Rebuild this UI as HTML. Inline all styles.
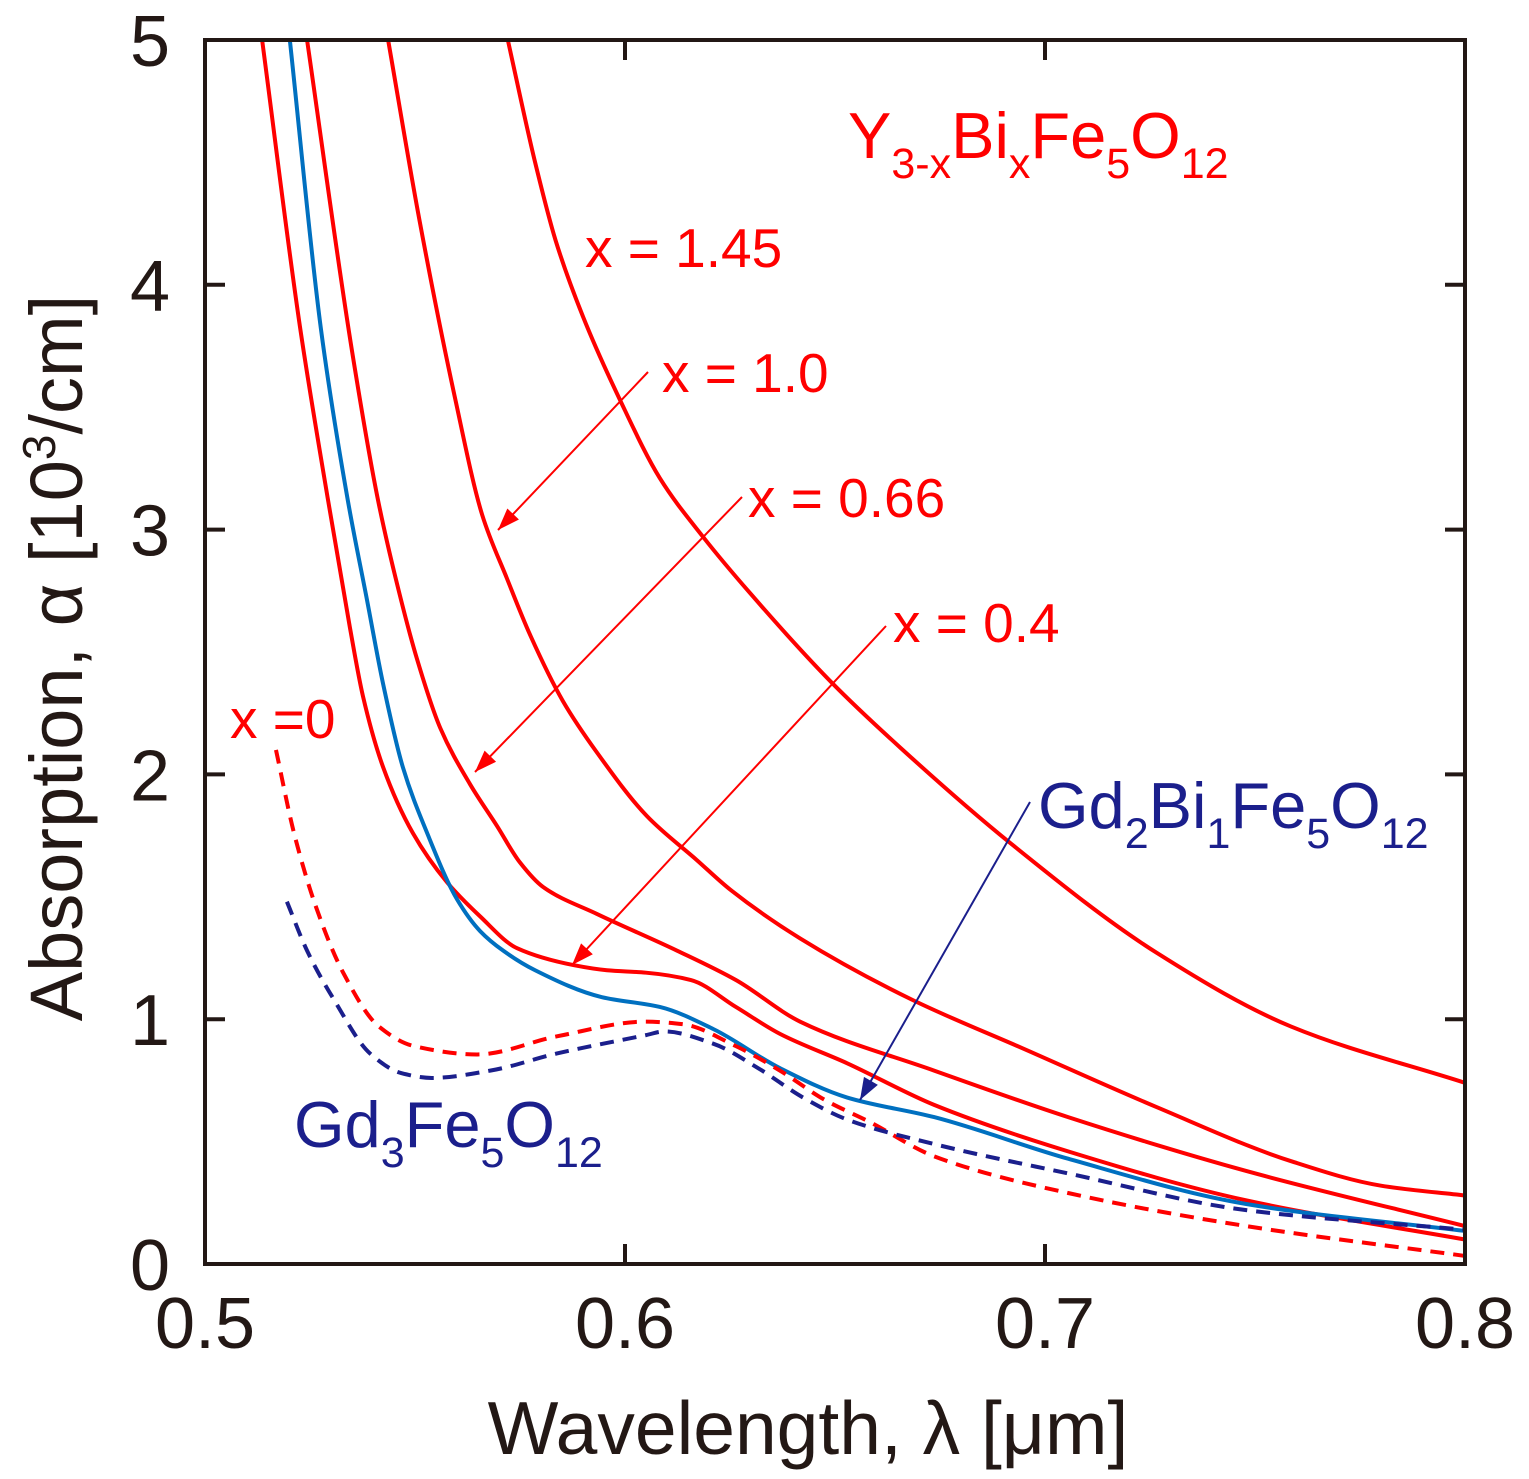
<!DOCTYPE html>
<html><head><meta charset="utf-8"><style>
html,body{margin:0;padding:0;background:#fff}
svg{display:block}
text{font-family:"Liberation Sans",sans-serif}
</style></head><body>
<svg id="chart" width="1529" height="1479" viewBox="0 0 1529 1479" xmlns="http://www.w3.org/2000/svg">
<g id="marks"></g>
<rect x="205" y="40" width="1260" height="1224" fill="none" stroke="#231815" stroke-width="4"/>
<g id="ticks"></g>
<g id="labels" fill="#231815"></g>
<text transform="translate(82,658) rotate(-90)" text-anchor="middle" font-size="74" fill="#231815">Absorption, α [10<tspan font-size="46" dy="-27">3</tspan><tspan dy="27">/cm]</tspan></text>
<text x="808" y="1454" text-anchor="middle" font-size="75" fill="#231815">Wavelength, λ [μm]</text>
<g fill="#ff0000">
<text x="848" y="158" font-size="65">Y<tspan font-size="43" dy="20">3-x</tspan><tspan dy="-20">Bi</tspan><tspan font-size="43" dy="20">x</tspan><tspan dy="-20">Fe</tspan><tspan font-size="43" dy="20">5</tspan><tspan dy="-20">O</tspan><tspan font-size="43" dy="20">12</tspan></text>
<text x="585" y="267" font-size="55">x = 1.45</text>
<text x="662" y="392" font-size="55">x = 1.0</text>
<text x="748" y="517" font-size="55">x = 0.66</text>
<text x="893" y="642" font-size="55">x = 0.4</text>
<text x="230" y="738" font-size="55">x =0</text>
</g>
<g fill="#1b1f8c">
<text x="1038" y="828" font-size="65">Gd<tspan font-size="43" dy="20">2</tspan><tspan dy="-20">Bi</tspan><tspan font-size="43" dy="20">1</tspan><tspan dy="-20">Fe</tspan><tspan font-size="43" dy="20">5</tspan><tspan dy="-20">O</tspan><tspan font-size="43" dy="20">12</tspan></text>
<text x="294" y="1147" font-size="65">Gd<tspan font-size="43" dy="20">3</tspan><tspan dy="-20">Fe</tspan><tspan font-size="43" dy="20">5</tspan><tspan dy="-20">O</tspan><tspan font-size="43" dy="20">12</tspan></text>
</g>
<g id="arrows"></g>
</svg>
<script>
const xTicks=[0.5,0.6,0.7,0.8];
const xTickLabels=["0.5","0.6","0.7","0.8"];
const yTicks=[0,1,2,3,4,5];
const yTickLabels=["0","1","2","3","4","5"];
const s145x=[0.5721,0.5786,0.5835,0.59,0.5988,0.6083,0.6186,0.6298,0.6495,0.6655,0.6917,0.7267,0.7586,0.8];
const s145y=[5,4.50,4.18,3.87,3.53,3.21,2.97,2.74,2.37,2.11,1.72,1.27,0.97,0.74];
const s10x=[0.5436,0.551,0.5595,0.566,0.5719,0.5774,0.5852,0.5933,0.6052,0.6171,0.625,0.6417,0.6683,0.6948,0.7267,0.7586,0.78,0.8];
const s10y=[5,4.27,3.54,3.06,2.80,2.57,2.30,2.09,1.83,1.65,1.53,1.33,1.08,0.88,0.64,0.42,0.32,0.28];
const s066x=[0.5243,0.535,0.5412,0.5457,0.5505,0.556,0.5631,0.5695,0.575,0.5805,0.5933,0.6124,0.6264,0.6417,0.6736,0.7055,0.7479,0.8];
const s066y=[5,3.73,3.12,2.78,2.47,2.19,1.96,1.79,1.64,1.54,1.43,1.28,1.16,0.99,0.79,0.60,0.38,0.155];
const s04x=[0.5136,0.5226,0.5293,0.5345,0.5376,0.5424,0.5495,0.5576,0.5655,0.5743,0.588,0.5957,0.605,0.6157,0.6264,0.6369,0.6529,0.6736,0.7055,0.7479,0.8];
const s04y=[5,3.83,3.12,2.60,2.32,2.03,1.76,1.56,1.42,1.29,1.22,1.20,1.19,1.16,1.05,0.94,0.82,0.65,0.46,0.26,0.10];
const gdbix=[0.5202,0.5276,0.534,0.5386,0.5424,0.5471,0.5529,0.56,0.5655,0.571,0.5786,0.5945,0.6083,0.621,0.6369,0.6529,0.6736,0.7055,0.7479,0.8];
const gdbiy=[5,3.82,3.12,2.71,2.37,2.03,1.76,1.49,1.36,1.28,1.20,1.09,1.05,0.96,0.80,0.68,0.60,0.43,0.245,0.135];
const s0x=[0.5169,0.5212,0.5264,0.5329,0.5414,0.5498,0.5648,0.5838,0.605,0.6136,0.6264,0.6369,0.6476,0.6583,0.6736,0.7055,0.7479,0.8];
const s0y=[2.10,1.76,1.46,1.19,0.97,0.89,0.856,0.93,0.99,0.98,0.89,0.79,0.67,0.58,0.44,0.29,0.155,0.033];
const gd3x=[0.5195,0.5243,0.5307,0.5393,0.5467,0.554,0.5679,0.5838,0.605,0.6093,0.621,0.6317,0.6424,0.6529,0.6736,0.7055,0.7479,0.8];
const gd3y=[1.48,1.28,1.08,0.86,0.78,0.76,0.79,0.86,0.935,0.95,0.90,0.80,0.68,0.59,0.49,0.37,0.22,0.14];

const NS="http://www.w3.org/2000/svg";
const X=v=>205+(v-0.5)/0.3*1260;
const Y=v=>1264-v/5*1224;
function pathD(xs,ys){
  const px=xs.map(X),py=ys.map(Y),n=px.length;
  const d=[],m=new Array(n);
  for(let i=0;i<n-1;i++)d.push((py[i+1]-py[i])/(px[i+1]-px[i]));
  m[0]=d[0];m[n-1]=d[n-2];
  for(let i=1;i<n-1;i++){
    if(d[i-1]*d[i]<=0)m[i]=0;
    else{const h0=px[i]-px[i-1],h1=px[i+1]-px[i];const w1=2*h1+h0,w2=h1+2*h0;m[i]=(w1+w2)/(w1/d[i-1]+w2/d[i]);}
  }
  let s="M"+px[0]+","+py[0];
  for(let i=0;i<n-1;i++){
    const h=(px[i+1]-px[i])/3;
    s+=" C"+(px[i]+h)+","+(py[i]+m[i]*h)+" "+(px[i+1]-h)+","+(py[i+1]-m[i+1]*h)+" "+px[i+1]+","+py[i+1];
  }
  return s;
}
const marks=document.getElementById("marks");
function addLine(xs,ys,color,dash,name){
  const el=document.createElementNS(NS,"path");
  el.setAttribute("d",pathD(xs,ys));
  el.setAttribute("fill","none");
  el.setAttribute("stroke",color);
  el.setAttribute("stroke-width","4");
  if(dash)el.setAttribute("stroke-dasharray","14 9");
  
  
  marks.appendChild(el);
}
addLine(s145x,s145y,"#ff0000",false,"line-x-1-45");
addLine(s10x,s10y,"#ff0000",false,"line-x-1-0");
addLine(s066x,s066y,"#ff0000",false,"line-x-0-66");
addLine(s04x,s04y,"#ff0000",false,"line-x-0-4");
addLine(gdbix,gdbiy,"#0070c0",false,"line-gd2bi1");
addLine(s0x,s0y,"#ff0000",true,"line-x-0");
addLine(gd3x,gd3y,"#1b1f8c",true,"line-gd3");

const ticks=document.getElementById("ticks"),labels=document.getElementById("labels");
function ln(x1,y1,x2,y2,name){
  const l=document.createElementNS(NS,"line");
  l.setAttribute("x1",x1);l.setAttribute("y1",y1);l.setAttribute("x2",x2);l.setAttribute("y2",y2);
  l.setAttribute("stroke","#231815");l.setAttribute("stroke-width","4");
  
  
  ticks.appendChild(l);
}
xTicks.forEach((v,i)=>{
  ln(X(v),1264,X(v),1244,"x-tick");
  ln(X(v),40,X(v),60,"x-tick-top");
  const t=document.createElementNS(NS,"text");
  t.setAttribute("x",X(v));t.setAttribute("y",1348);t.setAttribute("text-anchor","middle");
  t.setAttribute("font-size","72");
  t.textContent=xTickLabels[i];
  
  
  labels.appendChild(t);
});
yTicks.forEach((v,i)=>{
  ln(205,Y(v),225,Y(v),"y-tick");
  ln(1465,Y(v),1445,Y(v),"y-tick-right");
  const t=document.createElementNS(NS,"text");
  t.setAttribute("x",170);t.setAttribute("y",Y(v)+26);t.setAttribute("text-anchor","end");
  t.setAttribute("font-size","72");
  t.textContent=yTickLabels[i];
  
  
  labels.appendChild(t);
});
const arrows=document.getElementById("arrows");
function arrow(x1,y1,x2,y2,color,name){
  const g=document.createElementNS(NS,"g");
  
  
  const l=document.createElementNS(NS,"line");
  l.setAttribute("x1",x1);l.setAttribute("y1",y1);l.setAttribute("x2",x2);l.setAttribute("y2",y2);
  l.setAttribute("stroke",color);l.setAttribute("stroke-width","2");
  g.appendChild(l);
  const a=Math.atan2(y2-y1,x2-x1),L=22,W=8;
  const bx=x2-L*Math.cos(a),by=y2-L*Math.sin(a);
  const p=document.createElementNS(NS,"polygon");
  p.setAttribute("points",`${x2},${y2} ${bx+W*Math.sin(a)},${by-W*Math.cos(a)} ${bx-W*Math.sin(a)},${by+W*Math.cos(a)}`);
  p.setAttribute("fill",color);
  g.appendChild(p);
  arrows.appendChild(g);
}
arrow(648,372,498,530,"#ff0000","arrow-x-1-0");
arrow(742,497,475,772,"#ff0000","arrow-x-0-66");
arrow(886,626,572,965,"#ff0000","arrow-x-0-4");
arrow(1030,802,860,1100,"#1b1f8c","arrow-gd2bi1");
</script>
</body></html>
